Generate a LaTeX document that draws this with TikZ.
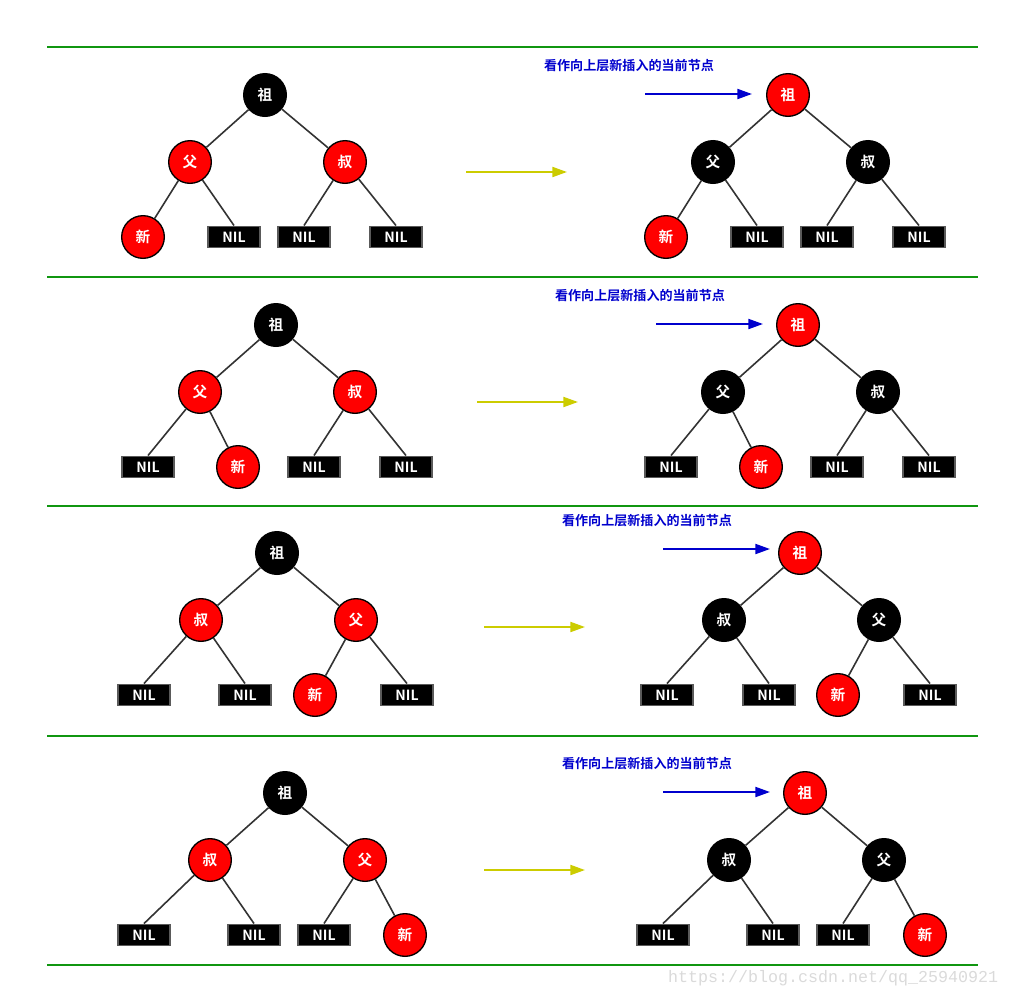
\documentclass[tikz,border=0pt]{standalone}
\usepackage{xcolor}
\usepackage{fontspec}
\setmainfont{Noto Sans CJK SC}[BoldFont={* Bold}]
\newfontfamily\wmfont{Liberation Mono}
\usetikzlibrary{arrows.meta}
\definecolor{sepgreen}{RGB}{16,150,16}
\definecolor{linkgray}{RGB}{51,51,51}
\definecolor{nilgray}{RGB}{90,90,90}
\definecolor{upblue}{RGB}{0,0,205}
\definecolor{goyellow}{RGB}{204,204,0}
\definecolor{wmgray}{RGB}{218,218,218}

\tikzset{
  rednode/.style={circle,draw=black,fill=red,line width=1pt,minimum size=32pt,inner sep=0pt,
    text=white,font=\bfseries\fontsize{11}{12}\selectfont},
  blacknode/.style={rednode,fill=black},
  nilbox/.style={rectangle,draw=nilgray,fill=black,line width=1.2pt,minimum width=39pt,
    minimum height=16pt,inner sep=0pt,text=white,font=\bfseries\fontsize{10.5}{12}\selectfont},
  link/.style={draw=linkgray,line width=1.2pt},
  sepline/.style={draw=sepgreen,line width=1.5pt},
  goarrow/.style={draw=goyellow,line width=1.5pt,-{Triangle[length=11pt,width=7.5pt]}},
  uparrow/.style={draw=upblue,line width=1.5pt,-{Triangle[length=11pt,width=7.5pt]}},
  uplabel/.style={text=upblue,font=\bfseries\fontsize{9.8}{11}\selectfont},
}

\begin{document}
\begin{tikzpicture}[x=0.75pt,y=-0.75pt]
  \useasboundingbox (0,0) rectangle (1010,996);

  % separators
  \foreach \y/\n in {47/a,277/b,506/c,736/d,965/e} {
    \coordinate (s\n l) at (47,\y);
    \coordinate (s\n r) at (978,\y);
    \path[sepline] (s\n l) -- (s\n r);
  }

  % ---- row 1 ----
  \node[blacknode] (a1g) at (265,95) {祖};
  \node[rednode] (a1p) at (190,162) {父};
  \node[rednode] (a1u) at (345,162) {叔};
  \node[rednode] (a1n) at (143,237) {新};
  \node[nilbox] (a1x) at (234,237) {NIL};
  \node[nilbox] (a1y) at (304,237) {NIL};
  \node[nilbox] (a1z) at (396,237) {NIL};
  \coordinate (a1s) at (466,172);
  \coordinate (a1e) at (567,172);
  \node[uplabel] (a1t) at (629,66) {看作向上层新插入的当前节点};
  \coordinate (a1bs) at (645,94);
  \coordinate (a1be) at (752,94);
  \node[rednode] (a2g) at (788,95) {祖};
  \node[blacknode] (a2p) at (713,162) {父};
  \node[blacknode] (a2u) at (868,162) {叔};
  \node[rednode] (a2n) at (666,237) {新};
  \node[nilbox] (a2x) at (757,237) {NIL};
  \node[nilbox] (a2y) at (827,237) {NIL};
  \node[nilbox] (a2z) at (919,237) {NIL};
  \begin{scope}[every path/.style={link}]
    \path (a1g) -- (a1p) (a1g) -- (a1u) (a1p) -- (a1n) (a1p) -- (a1x.north) (a1u) -- (a1y.north) (a1u) -- (a1z.north);
    \path (a2g) -- (a2p) (a2g) -- (a2u) (a2p) -- (a2n) (a2p) -- (a2x.north) (a2u) -- (a2y.north) (a2u) -- (a2z.north);
  \end{scope}
  \draw[goarrow] (a1s) -- (a1e);
  \draw[uparrow] (a1bs) -- (a1be);

  % ---- row 2 ----
  \node[blacknode] (b1g) at (276,325) {祖};
  \node[rednode] (b1p) at (200,392) {父};
  \node[rednode] (b1u) at (355,392) {叔};
  \node[nilbox] (b1x) at (148,467) {NIL};
  \node[rednode] (b1n) at (238,467) {新};
  \node[nilbox] (b1y) at (314,467) {NIL};
  \node[nilbox] (b1z) at (406,467) {NIL};
  \coordinate (b1s) at (477,402);
  \coordinate (b1e) at (578,402);
  \node[uplabel] (b1t) at (640,296) {看作向上层新插入的当前节点};
  \coordinate (b1bs) at (656,324);
  \coordinate (b1be) at (763,324);
  \node[rednode] (b2g) at (798,325) {祖};
  \node[blacknode] (b2p) at (723,392) {父};
  \node[blacknode] (b2u) at (878,392) {叔};
  \node[nilbox] (b2x) at (671,467) {NIL};
  \node[rednode] (b2n) at (761,467) {新};
  \node[nilbox] (b2y) at (837,467) {NIL};
  \node[nilbox] (b2z) at (929,467) {NIL};
  \begin{scope}[every path/.style={link}]
    \path (b1g) -- (b1p) (b1g) -- (b1u) (b1p) -- (b1x.north) (b1p) -- (b1n) (b1u) -- (b1y.north) (b1u) -- (b1z.north);
    \path (b2g) -- (b2p) (b2g) -- (b2u) (b2p) -- (b2x.north) (b2p) -- (b2n) (b2u) -- (b2y.north) (b2u) -- (b2z.north);
  \end{scope}
  \draw[goarrow] (b1s) -- (b1e);
  \draw[uparrow] (b1bs) -- (b1be);

  % ---- row 3 ----
  \node[blacknode] (c1g) at (277,553) {祖};
  \node[rednode] (c1u) at (201,620) {叔};
  \node[rednode] (c1p) at (356,620) {父};
  \node[nilbox] (c1x) at (144,695) {NIL};
  \node[nilbox] (c1y) at (245,695) {NIL};
  \node[rednode] (c1n) at (315,695) {新};
  \node[nilbox] (c1z) at (407,695) {NIL};
  \coordinate (c1s) at (484,627);
  \coordinate (c1e) at (585,627);
  \node[uplabel] (c1t) at (647,521) {看作向上层新插入的当前节点};
  \coordinate (c1bs) at (663,549);
  \coordinate (c1be) at (770,549);
  \node[rednode] (c2g) at (800,553) {祖};
  \node[blacknode] (c2u) at (724,620) {叔};
  \node[blacknode] (c2p) at (879,620) {父};
  \node[nilbox] (c2x) at (667,695) {NIL};
  \node[nilbox] (c2y) at (769,695) {NIL};
  \node[rednode] (c2n) at (838,695) {新};
  \node[nilbox] (c2z) at (930,695) {NIL};
  \begin{scope}[every path/.style={link}]
    \path (c1g) -- (c1u) (c1g) -- (c1p) (c1u) -- (c1x.north) (c1u) -- (c1y.north) (c1p) -- (c1n) (c1p) -- (c1z.north);
    \path (c2g) -- (c2u) (c2g) -- (c2p) (c2u) -- (c2x.north) (c2u) -- (c2y.north) (c2p) -- (c2n) (c2p) -- (c2z.north);
  \end{scope}
  \draw[goarrow] (c1s) -- (c1e);
  \draw[uparrow] (c1bs) -- (c1be);

  % ---- row 4 ----
  \node[blacknode] (d1g) at (285,793) {祖};
  \node[rednode] (d1u) at (210,860) {叔};
  \node[rednode] (d1p) at (365,860) {父};
  \node[nilbox] (d1x) at (144,935) {NIL};
  \node[nilbox] (d1y) at (254,935) {NIL};
  \node[nilbox] (d1z) at (324,935) {NIL};
  \node[rednode] (d1n) at (405,935) {新};
  \coordinate (d1s) at (484,870);
  \coordinate (d1e) at (585,870);
  \node[uplabel] (d1t) at (647,764) {看作向上层新插入的当前节点};
  \coordinate (d1bs) at (663,792);
  \coordinate (d1be) at (770,792);
  \node[rednode] (d2g) at (805,793) {祖};
  \node[blacknode] (d2u) at (729,860) {叔};
  \node[blacknode] (d2p) at (884,860) {父};
  \node[nilbox] (d2x) at (663,935) {NIL};
  \node[nilbox] (d2y) at (773,935) {NIL};
  \node[nilbox] (d2z) at (843,935) {NIL};
  \node[rednode] (d2n) at (925,935) {新};
  \begin{scope}[every path/.style={link}]
    \path (d1g) -- (d1u) (d1g) -- (d1p) (d1u) -- (d1x.north) (d1u) -- (d1y.north) (d1p) -- (d1z.north) (d1p) -- (d1n);
    \path (d2g) -- (d2u) (d2g) -- (d2p) (d2u) -- (d2x.north) (d2u) -- (d2y.north) (d2p) -- (d2z.north) (d2p) -- (d2n);
  \end{scope}
  \draw[goarrow] (d1s) -- (d1e);
  \draw[uparrow] (d1bs) -- (d1be);

  % watermark
  \node[text=wmgray,font=\wmfont\fontsize{12.5}{14}\selectfont,anchor=base east] (wm) at (1003,982) {https://blog.csdn.net/qq\_25940921};
\end{tikzpicture}
\end{document}
